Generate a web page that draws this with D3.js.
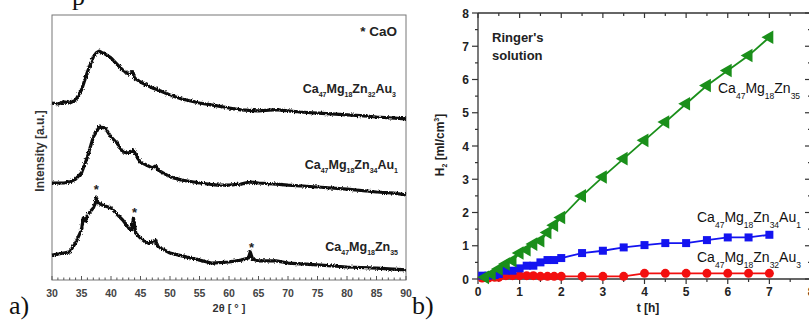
<!DOCTYPE html>
<html><head><meta charset="utf-8">
<script src="https://cdn.jsdelivr.net/npm/d3@7"></script>
<style>
html,body{margin:0;padding:0;background:#fff;}
svg{display:block;font-family:Arial,"Liberation Sans",sans-serif;}
</style></head>
<body>
<svg id="c" width="809" height="322"></svg>
<script>
// ---------- Panel a) XRD data (2θ in degrees, intensity a.u.) ----------
const xrdAngles_Au3 = [30,31,32,33,34,35,36,37,37.5,38,38.5,39,40,41,42,43,43.7,44,45,46,47,48,50,52,55,58,60,62,65,68,70,72,75,78,80,83,85,88,90];
const xrdValues_Au3 = [66.8,66.4,67.2,66.8,67.9,71.7,78.5,84.2,85.7,86.4,85.8,85.3,83.8,81.5,79.2,77.7,78.6,76.2,74.7,73.6,72.5,71.7,69.8,68.3,66.8,65.7,64.9,64.2,63.8,64.3,63.8,63.4,63.0,62.6,62.3,61.9,61.5,61.1,60.8];
const xrdAngles_Au1 = [30,32,33,34,35,36,37,38,39,40,41,42,43,43.8,44.5,45,46,47,47.5,48,50,52,55,58,60,62,63.5,65,68,70,75,80,85,88,90];
const xrdValues_Au1 = [36.6,36.6,37.0,38.1,40.4,46.4,54.0,57.7,57.4,54.0,51.7,48.3,47.9,49.1,46.0,44.5,43.4,42.3,43.0,41.5,38.9,37.7,36.6,35.8,35.8,36.2,37.0,36.6,36.2,35.8,35.1,34.3,33.2,32.8,32.1];
const xrdAngles_Zn35 = [30,32,33,34,35,35.3,35.7,36,37,37.3,37.5,37.8,38.5,40,41,42,43,43.5,43.8,44.2,45,46,47,47.5,48,50,52,55,57,60,62,63.3,63.6,64,65,68,70,75,80,85,90];
const xrdValues_Zn35 = [9.4,10.2,10.6,14.0,18.9,23.4,22.3,24.5,27.2,28.7,31.3,29.1,28.3,27.2,24.9,22.6,19.6,18.9,23.4,17.7,15.8,14.0,14.3,15.1,12.5,10.2,9.1,7.5,6.4,6.8,7.5,8.3,10.6,7.9,7.2,7.2,6.4,5.7,4.9,4.5,3.8];
const xrdTicks = [30,35,40,45,50,55,60,65,70,75,80,85,90];
const casoStars = [[37.5,34.5],[44.0,25.6],[63.8,12.6]];

// ---------- Panel b) H2 evolution (t in h, H2 in ml/cm^2) ----------
const t_Zn35 = [0.17,0.33,0.5,0.67,0.83,1.0,1.17,1.33,1.5,1.67,1.83,2.0,2.5,3.0,3.5,4.0,4.5,5.0,5.5,6.0,6.5,7.0];
const h2_Zn35 = [0.05,0.15,0.3,0.45,0.55,0.78,0.88,1.05,1.15,1.4,1.62,1.85,2.5,3.07,3.62,4.17,4.72,5.27,5.82,6.27,6.72,7.27];
const t_Au1 = [0.1,0.25,0.4,0.5,0.67,0.83,1.0,1.17,1.33,1.5,1.67,1.83,2.0,2.5,3.0,3.5,4.0,4.5,5.0,5.5,6.0,6.5,7.0];
const h2_Au1 = [0.1,0.1,0.12,0.15,0.25,0.25,0.32,0.4,0.4,0.5,0.57,0.57,0.63,0.78,0.85,0.95,1.02,1.08,1.08,1.17,1.25,1.25,1.33];
const t_Au3 = [0.1,0.25,0.4,0.5,0.67,0.83,1.0,1.17,1.33,1.5,1.67,1.83,2.0,2.5,3.0,3.5,4.0,4.5,5.0,5.5,6.0,6.5,7.0];
const h2_Au3 = [0.03,0.03,0.05,0.05,0.1,0.1,0.1,0.1,0.1,0.08,0.08,0.08,0.08,0.08,0.08,0.08,0.17,0.17,0.17,0.17,0.17,0.17,0.17];
const tTicks = [0,1,2,3,4,5,6,7,8];
const hTicks = [0,1,2,3,4,5,6,7,8];

const svg = d3.select("#c");
const defs = svg.append("defs");
const f = defs.append("filter").attr("id","rough").attr("x","-5%").attr("y","-20%").attr("width","110%").attr("height","140%");
f.append("feTurbulence").attr("type","fractalNoise").attr("baseFrequency","1.3 0.5").attr("numOctaves",1).attr("seed",3).attr("result","n");
f.append("feDisplacementMap").attr("in","SourceGraphic").attr("in2","n").attr("scale",3.5)
  .attr("xChannelSelector","R").attr("yChannelSelector","G");

// stray glyph from text above the figure
svg.append("text").attr("x",72).attr("y",5).attr("font-family","'Liberation Serif','Times New Roman',serif")
  .attr("font-size",26).attr("fill","#111").text("p");

function formula(g, parts, x, y, size, subSize, drop, anchor, weight, fill){
  const t = g.append("text").attr("x",x).attr("y",y).attr("text-anchor",anchor)
    .attr("font-size",size).attr("font-weight",weight).attr("fill",fill);
  parts.forEach(([s,sub],i)=>{
    t.append("tspan").attr("font-size",size).attr("dy",i===0?0:-drop).text(s);
    t.append("tspan").attr("font-size",subSize).attr("dy",drop).text(sub);
  });
  return t;
}

// ================= Panel a =================
const ax = d3.scaleLinear().domain([30,90]).range([52,406]);
const ay = d3.scaleLinear().domain([0,100]).range([280,15]);
const ga = svg.append("g");
ga.append("rect").attr("x",52).attr("y",15).attr("width",354).attr("height",265)
  .attr("fill","none").attr("stroke","#777").attr("stroke-width",1);
const minorA = d3.range(30,91,1);
ga.append("g").selectAll("line").data(minorA).join("line")
  .attr("x1",d=>ax(d)).attr("x2",d=>ax(d)).attr("y1",280).attr("y2",d=>d%5===0?276:277.5)
  .attr("stroke","#555").attr("stroke-width",1);
ga.append("g").selectAll("text").data(xrdTicks).join("text")
  .attr("x",d=>ax(d)).attr("y",297).attr("text-anchor","middle").attr("font-size",10.5)
  .attr("font-weight","bold").attr("fill","#444").text(d=>d);
const lineA = d3.line().x(d=>ax(d[0])).y(d=>ay(d[1]));
const curves = ga.append("g").attr("filter","url(#rough)");
[[xrdAngles_Au3,xrdValues_Au3],[xrdAngles_Au1,xrdValues_Au1],[xrdAngles_Zn35,xrdValues_Zn35]].forEach(([a,v])=>{
  curves.append("path").datum(a.map((x,i)=>[x,v[i]])).attr("d",lineA)
    .attr("fill","none").attr("stroke","#0d0d0d").attr("stroke-width",3.2).attr("stroke-linejoin","round");
});
ga.selectAll("text.star").data(casoStars).join("text").attr("class","star")
  .attr("x",d=>ax(d[0])).attr("y",d=>ay(d[1])+5).attr("text-anchor","middle")
  .attr("font-size",13).attr("font-weight","bold").attr("fill","#222").text("*");
ga.append("text").attr("x",397).attr("y",36).attr("text-anchor","end").attr("font-size",13.5)
  .attr("font-weight","bold").attr("fill","#222").text("* CaO");

formula(ga,[["Ca","47"],["Mg","18"],["Zn","32"],["Au","3"]],396,93,12.5,7,4,"end","bold","#222");
formula(ga,[["Ca","47"],["Mg","18"],["Zn","34"],["Au","1"]],398,169,12.5,7,4,"end","bold","#222");
formula(ga,[["Ca","47"],["Mg","18"],["Zn","35"]],398,251,12.5,7,4,"end","bold","#222");

ga.append("text").attr("x",229).attr("y",312).attr("text-anchor","middle").attr("font-size",11)
  .attr("font-weight","bold").attr("fill","#333").text("2\u03b8 [ \u00b0 ]");
ga.append("text").attr("transform","translate(44,151) rotate(-90)").attr("text-anchor","middle")
  .attr("font-size",12).attr("font-weight","bold").attr("fill","#333").text("Intensity [a.u.]");
svg.append("text").attr("x",9).attr("y",314).attr("font-family","'Liberation Serif','Times New Roman',serif")
  .attr("font-size",26).attr("fill","#111").text("a)");

// ================= Panel b =================
const bx = d3.scaleLinear().domain([0,8]).range([478,811]);
const by = d3.scaleLinear().domain([0,8]).range([279,13]);
const gb = svg.append("g");
const axCol = "#333";
gb.append("line").attr("x1",bx(0)).attr("x2",bx(8)).attr("y1",by(0)).attr("y2",by(0)).attr("stroke",axCol).attr("stroke-width",1.3);
gb.append("line").attr("x1",bx(0)).attr("x2",bx(8)).attr("y1",by(8)).attr("y2",by(8)).attr("stroke",axCol).attr("stroke-width",1.3);
gb.append("line").attr("x1",bx(0)).attr("x2",bx(0)).attr("y1",by(0)).attr("y2",by(8)).attr("stroke",axCol).attr("stroke-width",1.3);
gb.append("line").attr("x1",bx(8)).attr("x2",bx(8)).attr("y1",by(0)).attr("y2",by(8)).attr("stroke",axCol).attr("stroke-width",1.3);
const halves = d3.range(0,8.01,0.5);
gb.append("g").selectAll("line").data(halves).join("line")
  .attr("x1",d=>bx(d)).attr("x2",d=>bx(d)).attr("y1",by(0)).attr("y2",d=>by(0)+(d%1===0?5:3))
  .attr("stroke",axCol).attr("stroke-width",1.2);
gb.append("g").selectAll("line").data(halves).join("line")
  .attr("x1",d=>bx(d)).attr("x2",d=>bx(d)).attr("y1",by(8)).attr("y2",d=>by(8)+(d%1===0?5:3))
  .attr("stroke",axCol).attr("stroke-width",1.2);
gb.append("g").selectAll("line").data(halves).join("line")
  .attr("y1",d=>by(d)).attr("y2",d=>by(d)).attr("x1",bx(0)).attr("x2",d=>bx(0)-(d%1===0?6:3))
  .attr("stroke",axCol).attr("stroke-width",1.2);
gb.append("g").selectAll("line").data(halves).join("line")
  .attr("y1",d=>by(d)).attr("y2",d=>by(d)).attr("x1",bx(8)).attr("x2",d=>bx(8)-(d%1===0?6:3))
  .attr("stroke",axCol).attr("stroke-width",1.2);
gb.append("g").selectAll("text").data(tTicks).join("text")
  .attr("x",d=>bx(d)).attr("y",by(0)+17).attr("text-anchor","middle").attr("font-size",12)
  .attr("font-weight","bold").attr("fill","#222").text(d=>d);
gb.append("g").selectAll("text").data(hTicks).join("text")
  .attr("x",bx(0)-9).attr("y",d=>by(d)+4.5).attr("text-anchor","end").attr("font-size",12)
  .attr("font-weight","bold").attr("fill","#222").text(d=>d);

const lineB = d3.line().x(d=>bx(d[0])).y(d=>by(d[1]));
const series = [
  {t:t_Au3, v:h2_Au3, color:"#f20f0f", sym:"circle"},
  {t:t_Au1, v:h2_Au1, color:"#1414f0", sym:"square"},
  {t:t_Zn35, v:h2_Zn35, color:"#1a8f1a", sym:"triangle"}
];
series.forEach(s=>{
  const pts = s.t.map((x,i)=>[x,s.v[i]]);
  gb.append("path").datum(pts).attr("d",lineB).attr("fill","none").attr("stroke",s.color).attr("stroke-width",1.8);
  const g = gb.append("g");
  if(s.sym==="circle"){
    g.selectAll("circle").data(pts).join("circle").attr("cx",d=>bx(d[0])).attr("cy",d=>by(d[1])).attr("r",4.5).attr("fill",s.color);
  } else if(s.sym==="square"){
    g.selectAll("path").data(pts).join("path").attr("d",d3.symbol(d3.symbolSquare,64))
      .attr("transform",d=>`translate(${bx(d[0])},${by(d[1])})`).attr("fill",s.color);
  } else {
    g.selectAll("path").data(pts).join("path").attr("d",d3.symbol(d3.symbolTriangle,80))
      .attr("transform",d=>`translate(${bx(d[0])},${by(d[1])}) rotate(-90)`).attr("fill",s.color);
  }
});

gb.append("text").attr("x",492).attr("y",42).attr("font-size",13).attr("font-weight","bold").attr("fill","#222").text("Ringer's");
gb.append("text").attr("x",492).attr("y",60).attr("font-size",13).attr("font-weight","bold").attr("fill","#222").text("solution");

formula(gb,[["Ca","47"],["Mg","18"],["Zn","35"]],718,93,14,8.5,6,"start","normal","#111");
formula(gb,[["Ca","47"],["Mg","18"],["Zn","34"],["Au","1"]],697,222,14,8.5,6,"start","normal","#111");
formula(gb,[["Ca","47"],["Mg","18"],["Zn","32"],["Au","3"]],697,262,14,8.5,6,"start","normal","#111");

gb.append("text").attr("x",648).attr("y",312).attr("text-anchor","middle").attr("font-size",12)
  .attr("font-weight","bold").attr("fill","#222").text("t [h]");
const yl = gb.append("text").attr("transform","translate(444,145) rotate(-90)").attr("text-anchor","middle")
  .attr("font-size",12).attr("font-weight","bold").attr("fill","#222");
yl.append("tspan").text("H");
yl.append("tspan").attr("font-size",7).attr("dy",3).text("2");
yl.append("tspan").attr("dy",-3).text("  [ml/cm");
yl.append("tspan").attr("font-size",7).attr("dy",-5).text("3");
yl.append("tspan").attr("dy",5).text("]");
svg.append("text").attr("x",412).attr("y",314).attr("font-family","'Liberation Serif','Times New Roman',serif")
  .attr("font-size",26).attr("fill","#111").text("b)");
</script>
</body></html>
